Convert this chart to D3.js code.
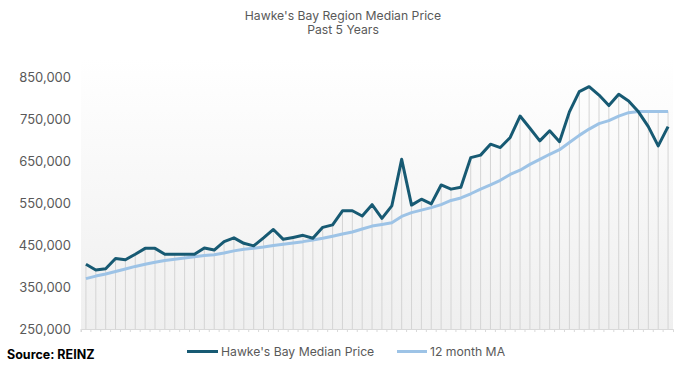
<!DOCTYPE html>
<html>
<head>
<meta charset="utf-8">
<script src="https://cdn.jsdelivr.net/npm/d3@7"></script>
<style>
  html, body { margin: 0; padding: 0; background: #fff; }
  svg { display: block; }
  text { font-family: Inter, "Open Sans", sans-serif; }
</style>
</head>
<body>
<div id="chart"></div>
<script>
const title = ["Hawke's Bay Region Median Price", "Past 5 Years"];
const seriesNames = ["Hawke's Bay Median Price", "12 month MA"];
const sourceText = "Source: REINZ";
const yTicks = [250000, 350000, 450000, 550000, 650000, 750000, 850000];

// 60 monthly observations (5 years)
const months = d3.range(60);
const medianPrice = [
  404000, 390500, 393500, 418000, 415000, 428000, 442000, 442000, 428000, 428000,
  428000, 428000, 443000, 438000, 458000, 467000, 454000, 448000, 467000, 487000,
  463500, 468000, 473000, 466000, 492000, 498000, 531500, 531500, 519000, 546000,
  513500, 543000, 654000, 545000, 559000, 548000, 593000, 583000, 587500, 658000,
  664000, 690000, 682000, 706000, 757000, 728000, 698000, 722000, 696000, 767000,
  815000, 827000, 807000, 782000, 809000, 793000, 767000, 732000, 686000, 732000
];
const movingAvg = [
  370000, 376000, 381000, 387000, 393000, 399000, 404000, 409000, 413000, 416000,
  419000, 422000, 425000, 427000, 431000, 436000, 440000, 442000, 445000, 449000,
  452000, 455000, 458000, 462000, 466000, 471000, 476000, 481000, 488000, 495000,
  499000, 503000, 518000, 527000, 533000, 539000, 546000, 556000, 562000, 572000,
  583000, 593000, 604000, 618000, 628000, 642000, 654000, 666000, 677000, 694000,
  711000, 726000, 739000, 746000, 757000, 765000, 768000, 768000, 768000, 768000
];

const W = 689, H = 370;
const plot = { left: 81, right: 673, top: 58, bottom: 329 };

const svg = d3.select("#chart").append("svg").attr("width", W).attr("height", H);

const defs = svg.append("defs");
const grad = defs.append("linearGradient").attr("id", "bg").attr("x1", 0).attr("y1", 0).attr("x2", 0).attr("y2", 1);
grad.append("stop").attr("offset", "0%").attr("stop-color", "#ffffff");
grad.append("stop").attr("offset", "100%").attr("stop-color", "#efefef");

const x = d3.scaleBand().domain(months).range([plot.left, plot.right]).paddingInner(0).paddingOuter(0);
const cx = i => x(i) + x.bandwidth() / 2;
const y = d3.scaleLinear().domain([250000, 850000]).range([plot.bottom, plot.bottom - 6 * 42]);

// plot background
svg.append("rect")
  .attr("x", plot.left).attr("y", plot.top)
  .attr("width", plot.right - plot.left).attr("height", plot.bottom - plot.top)
  .attr("fill", "url(#bg)");

// drop lines
svg.append("g").selectAll("line").data(months).join("line")
  .attr("x1", d => cx(d)).attr("x2", d => cx(d))
  .attr("y1", plot.bottom)
  .attr("y2", d => y(Math.max(medianPrice[d], movingAvg[d])))
  .attr("stroke", "#d4d4d4").attr("stroke-width", 1);

// x axis (ticks between categories)
const xAxis = d3.axisBottom(x).tickSize(3).tickFormat("");
const gx = svg.append("g").attr("transform", `translate(0,${plot.bottom})`).call(xAxis);
gx.select(".domain").attr("stroke", "#d9d9d9");
gx.selectAll(".tick line").attr("stroke", "#d9d9d9").attr("transform", `translate(${-x.bandwidth()/2},0)`);

// y axis labels
const yAxis = d3.axisLeft(y).tickValues(yTicks).tickSize(0).tickPadding(10).tickFormat(d3.format(",.0f"));
const gy = svg.append("g").attr("transform", `translate(${plot.left},0)`).call(yAxis);
gy.select(".domain").remove();
gy.selectAll(".tick text")
  .attr("fill", "#595959").attr("font-size", "13px")
  .attr("font-family", "Inter, 'Open Sans', sans-serif");

// lines
const line = arr => d3.line().x((d, i) => cx(i)).y(d => y(d))(arr);
svg.append("path").attr("d", line(movingAvg))
  .attr("fill", "none").attr("stroke", "#9dc3e6").attr("stroke-width", 3)
  .attr("stroke-linejoin", "round");
svg.append("path").attr("d", line(medianPrice))
  .attr("fill", "none").attr("stroke", "#175a73").attr("stroke-width", 3)
  .attr("stroke-linejoin", "round");

// title
svg.append("text").attr("x", 343).attr("y", 20).attr("text-anchor", "middle")
  .attr("font-size", "12.2px").attr("fill", "#595959").text(title[0]);
svg.append("text").attr("x", 343).attr("y", 34).attr("text-anchor", "middle")
  .attr("font-size", "12.2px").attr("fill", "#595959").text(title[1]);

// legend
const leg = svg.append("g");
leg.append("line").attr("x1", 187).attr("x2", 218).attr("y1", 351.5).attr("y2", 351.5)
  .attr("stroke", "#175a73").attr("stroke-width", 3);
leg.append("text").attr("x", 221).attr("y", 356).attr("font-size", "12.2px").attr("fill", "#595959").text(seriesNames[0]);
leg.append("line").attr("x1", 397).attr("x2", 427).attr("y1", 351.5).attr("y2", 351.5)
  .attr("stroke", "#9dc3e6").attr("stroke-width", 3);
leg.append("text").attr("x", 430).attr("y", 356).attr("font-size", "12.2px").attr("fill", "#595959").text(seriesNames[1]);

// source
svg.append("text").attr("x", 7).attr("y", 358.5).attr("font-size", "12.5px")
  .attr("font-weight", "bold").attr("fill", "#000").attr("font-family", "Arial, 'Liberation Sans', sans-serif")
  .text(sourceText);
</script>
</body>
</html>
